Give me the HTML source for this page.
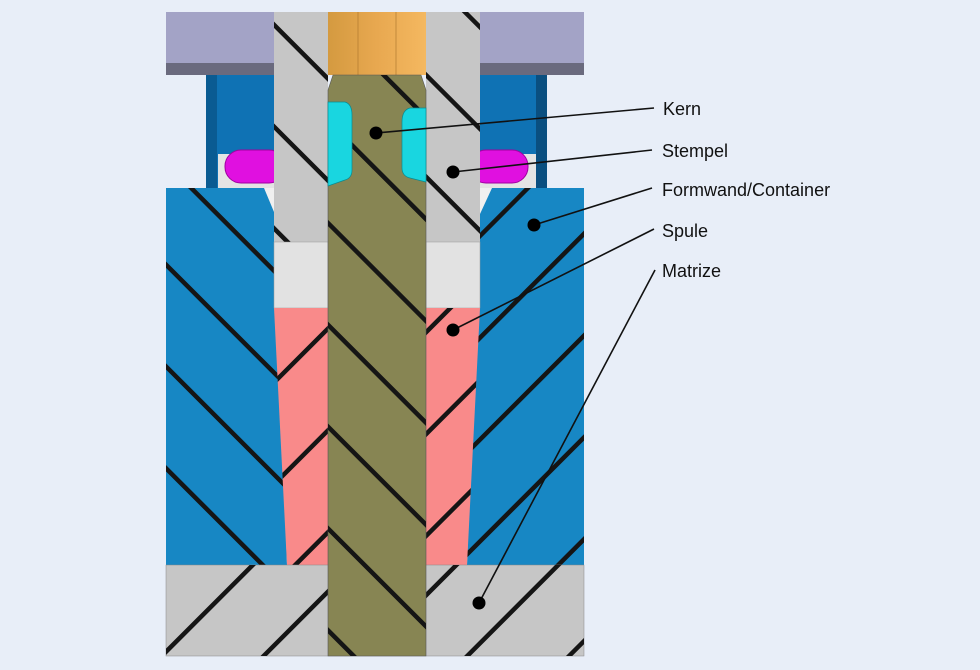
<!DOCTYPE html>
<html><head><meta charset="utf-8"><style>
html,body{margin:0;padding:0;background:#e8eef8;}
svg{display:block}
text{font-family:"Liberation Sans",Arial,sans-serif;font-size:18px;fill:#111}
</style></head><body>
<svg width="980" height="670" viewBox="0 0 980 670" xmlns="http://www.w3.org/2000/svg">
<defs>
<pattern id="fw" patternUnits="userSpaceOnUse" width="72" height="72" patternTransform="rotate(45)">
<rect x="0" y="0" width="4.5" height="72" fill="#151515"/></pattern>
<pattern id="bk" patternUnits="userSpaceOnUse" width="72" height="72" patternTransform="rotate(-45)">
<rect x="0" y="0" width="4.5" height="72" fill="#151515"/></pattern>
<pattern id="fw2" patternUnits="userSpaceOnUse" width="72" height="72" patternTransform="rotate(45) translate(30,0)">
<rect x="0" y="0" width="4.5" height="72" fill="#151515"/></pattern>
<pattern id="bk2" patternUnits="userSpaceOnUse" width="72" height="72" patternTransform="rotate(-45) translate(30,0)">
<rect x="0" y="0" width="4.5" height="72" fill="#151515"/></pattern>
<linearGradient id="org" x1="0" x2="1"><stop offset="0" stop-color="#d49a40"/><stop offset="0.5" stop-color="#e8a850"/><stop offset="1" stop-color="#f4b860"/></linearGradient>
</defs>
<rect width="980" height="670" fill="#e8eef8"/>
<rect x="166" y="12" width="418" height="52" fill="#a3a3c6"/>
<rect x="166" y="63" width="418" height="12" fill="#6a6a7e"/>
<rect x="206" y="75" width="68" height="113" fill="#0f72b4"/>
<rect x="206" y="75" width="11" height="113" fill="#0a5b92"/>
<rect x="480" y="75" width="67" height="113" fill="#0f72b4"/>
<rect x="536" y="75" width="11" height="113" fill="#0a4f80"/>
<rect x="218" y="154" width="56" height="34" fill="#e4e4e4"/>
<rect x="480" y="154" width="56" height="34" fill="#e4e4e4"/>
<rect x="225" y="150" width="60" height="33" rx="16" fill="#e010e0" stroke="#a000a0"/>
<rect x="470" y="150" width="58" height="33" rx="16" fill="#e010e0" stroke="#a000a0"/>
<path d="M166 188H274L287 565H166Z" fill="#1787c4"/>
<path d="M166 188H274L287 565H166Z" fill="url(#bk)"/>
<path d="M480 188H584V565H467Z" fill="#1787c4"/>
<path d="M480 188H584V565H467Z" fill="url(#fw)"/>
<path d="M264 188H274V212Z" fill="#f0f0f0"/>
<path d="M480 188H492L480 214Z" fill="#f0f0f0"/>
<rect x="274" y="12" width="54" height="230" fill="#c6c6c6"/>
<rect x="274" y="12" width="54" height="230" fill="url(#bk2)"/>
<rect x="426" y="12" width="54" height="230" fill="#c6c6c6"/>
<rect x="426" y="12" width="54" height="230" fill="url(#bk2)"/>
<rect x="274" y="242" width="54" height="66" fill="#e2e2e2" stroke="#999" stroke-width="0.5"/>
<rect x="426" y="242" width="54" height="66" fill="#e2e2e2" stroke="#999" stroke-width="0.5"/>
<path d="M274 308H328V565H287Z" fill="#f98a8a"/>
<path d="M274 308H328V565H287Z" fill="url(#fw2)"/>
<path d="M426 308H480L467 565H426Z" fill="#f98a8a"/>
<path d="M426 308H480L467 565H426Z" fill="url(#fw2)"/>
<rect x="166" y="565" width="418" height="91" fill="#c6c6c6" stroke="#888" stroke-width="0.5"/>
<rect x="166" y="565" width="418" height="91" fill="url(#fw)"/>
<rect x="328" y="12" width="98" height="63" fill="url(#org)"/>
<line x1="358" y1="12" x2="358" y2="75" stroke="#b07a30" stroke-width="0.7"/>
<line x1="396" y1="12" x2="396" y2="75" stroke="#b07a30" stroke-width="0.7"/>
<path d="M333 75H421L426 90V656H328V90Z" fill="#878553" stroke="#555" stroke-width="0.6"/>
<path d="M333 75H421L426 90V656H328V90Z" fill="url(#bk)"/>
<path d="M328 102H345Q352 104 352 115V170Q352 178 345 180L328 186Z" fill="#19d6e0" stroke="#0a8a90" stroke-width="0.7"/>
<path d="M426 108H410Q402 110 402 122V168Q402 176 410 178L426 182Z" fill="#19d6e0" stroke="#0a8a90" stroke-width="0.7"/>
<g stroke="#111" stroke-width="1.6">
<line x1="376" y1="133" x2="654" y2="108"/>
<line x1="453" y1="172" x2="652" y2="150"/>
<line x1="534" y1="225" x2="652" y2="188"/>
<line x1="453" y1="330" x2="654" y2="229"/>
<line x1="479" y1="603" x2="655" y2="270"/>
</g>
<g fill="#000">
<circle cx="376" cy="133" r="6.5"/>
<circle cx="453" cy="172" r="6.5"/>
<circle cx="534" cy="225" r="6.5"/>
<circle cx="453" cy="330" r="6.5"/>
<circle cx="479" cy="603" r="6.5"/>
</g>
<text x="663" y="115">Kern</text>
<text x="662" y="157">Stempel</text>
<text x="662" y="196">Formwand/Container</text>
<text x="662" y="237">Spule</text>
<text x="662" y="277">Matrize</text>
</svg>
</body></html>
